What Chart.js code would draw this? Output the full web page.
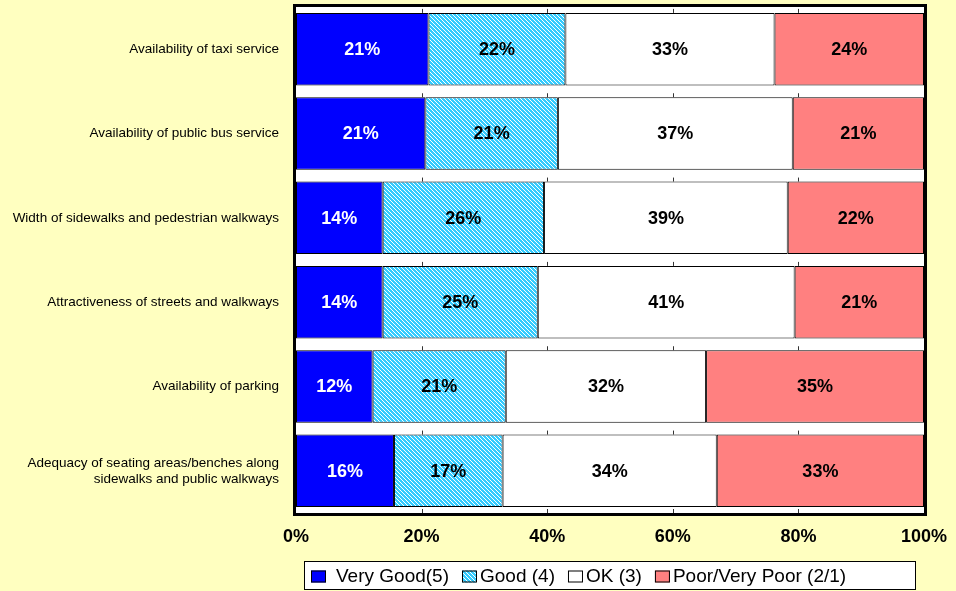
<!DOCTYPE html>
<html>
<head>
<meta charset="utf-8">
<script src="https://cdn.jsdelivr.net/npm/chart.js@4.4.1/dist/chart.umd.min.js"></script>
<style>
  html, body { margin: 0; padding: 0; background: #FFFFC0; }
  #ratingChart { display: block; }
</style>
</head>
<body>
<canvas id="ratingChart" width="956" height="591"></canvas>
<script>
var categories = [
    'Availability of taxi service',
    'Availability of public bus service',
    'Width of sidewalks and pedestrian walkways',
    'Attractiveness of streets and walkways',
    'Availability of parking',
    ['Adequacy of seating areas/benches along', 'sidewalks and public walkways']
];
var seriesNames = ['Very Good(5)', 'Good (4)', 'OK (3)', 'Poor/Very Poor (2/1)'];
var veryGood = [21.1, 20.6, 13.8, 13.8, 12.2, 15.6];
var good     = [21.8, 21.1, 25.7, 24.7, 21.2, 17.3];
var ok       = [33.3, 37.4, 38.8, 40.9, 31.9, 34.1];
var poor     = [23.8, 20.9, 21.7, 20.6, 34.7, 33.0];
var xTicks   = [0, 20, 40, 60, 80, 100];

var FONT = 'Arial, "Liberation Sans", sans-serif';
var ctx = document.getElementById('ratingChart').getContext('2d');

// diagonal cyan/white hatch like the Excel "Good" fill
var hatch = (function () {
    var c = document.createElement('canvas');
    c.width = 4; c.height = 4;
    var g = c.getContext('2d');
    g.fillStyle = '#33CCFF';
    g.fillRect(0, 0, 4, 4);
    g.fillStyle = '#ffffff';
    for (var i = 0; i < 4; i++) {
        g.fillRect((i + 2) % 4, i, 1, 1);
    }
    return ctx.createPattern(c, 'repeat');
})();

var fills = ['#0000FF', hatch, '#FFFFFF', '#FF8080'];

var extras = {
    id: 'extras',
    beforeDraw: function (chart) {
        var a = chart.chartArea, c = chart.ctx;
        c.save();
        c.fillStyle = '#ffffff';
        c.fillRect(a.left, a.top, a.right - a.left, a.bottom - a.top);
        c.restore();
    },
    afterDatasetsDraw: function (chart) {
        var a = chart.chartArea, c = chart.ctx, xs = chart.scales.x;
        c.save();
        // small value ticks sitting on each bar top and on the bottom edge
        c.strokeStyle = '#333333';
        c.lineWidth = 1;
        var tops = chart.getDatasetMeta(0).data.map(function (el) { return el.y - el.height / 2; });
        tops.push(a.bottom);
        [20, 40, 60, 80].forEach(function (v) {
            var px = Math.round(xs.getPixelForValue(v)) + 0.5;
            tops.forEach(function (t) {
                c.beginPath();
                c.moveTo(px, t - 4);
                c.lineTo(px, t);
                c.stroke();
            });
        });
        // percentage labels in the bars
        c.font = 'bold 18px ' + FONT;
        c.textAlign = 'center';
        c.textBaseline = 'middle';
        chart.data.datasets.forEach(function (ds, i) {
            chart.getDatasetMeta(i).data.forEach(function (el, j) {
                c.fillStyle = i === 0 ? '#ffffff' : '#000000';
                c.fillText(Math.round(ds.data[j]) + '%', (el.x + el.base) / 2, el.y + 1);
            });
        });
        // plot frame
        c.strokeStyle = '#000000';
        c.lineWidth = 3;
        c.strokeRect(a.left - 1.5, a.top - 1.5, a.right - a.left + 3, a.bottom - a.top + 3);
        c.restore();
    },
    afterDraw: function (chart) {
        var a = chart.chartArea, c = chart.ctx;
        var boxW = 612, boxL = Math.round((a.left + a.right) / 2 - boxW / 2), boxT = 561, boxH = 29;
        c.save();
        c.fillStyle = '#ffffff';
        c.fillRect(boxL, boxT, boxW, boxH);
        c.strokeStyle = '#000000';
        c.lineWidth = 1;
        c.strokeRect(boxL + 0.5, boxT + 0.5, boxW - 1, boxH - 1);
        c.font = '19px ' + FONT;
        c.textAlign = 'left';
        c.textBaseline = 'middle';
        var x = boxL + 7, midY = boxT + boxH / 2 + 1;
        chart.data.datasets.forEach(function (ds, i) {
            c.fillStyle = ds.backgroundColor;
            c.fillRect(x, midY - 6, 15, 12);
            c.strokeStyle = '#000000';
            c.strokeRect(x + 0.5, midY - 5.5, 14, 11);
            x += i === 0 ? 25 : 18;
            c.fillStyle = '#000000';
            c.fillText(ds.label, x, midY);
            x += c.measureText(ds.label).width + 13;
        });
        c.restore();
    }
};

var rows = [veryGood, good, ok, poor];
var ratingChart = new Chart(ctx, {
    type: 'bar',
    data: {
        labels: categories,
        datasets: rows.map(function (vals, i) {
            return {
                label: seriesNames[i],
                data: vals,
                backgroundColor: fills[i],
                borderColor: '#000000',
                borderWidth: 1,
                borderSkipped: false,
                barPercentage: 0.86,
                categoryPercentage: 1.0
            };
        })
    },
    options: {
        indexAxis: 'y',
        responsive: false,
        animation: false,
        devicePixelRatio: 1,
        layout: { padding: { top: 7, right: 32, bottom: 38, left: 0 } },
        scales: {
            x: {
                stacked: true,
                min: 0,
                max: 100,
                afterBuildTicks: function (scale) {
                    scale.ticks = xTicks.map(function (v) { return { value: v }; });
                },
                afterFit: function (scale) {
                    scale.height = 40;
                    scale.paddingLeft = 0;
                    scale.paddingRight = 0;
                },
                grid: { display: false, drawTicks: false },
                border: { display: false },
                ticks: {
                    padding: 13,
                    color: '#000000',
                    font: { family: FONT, size: 18, weight: 'bold' },
                    callback: function (v) { return v + '%'; }
                }
            },
            y: {
                stacked: true,
                afterFit: function (scale) {
                    scale.width = 296;
                    scale.paddingTop = 0;
                    scale.paddingBottom = 0;
                },
                grid: { display: false, drawTicks: false },
                border: { display: false },
                ticks: {
                    padding: 17,
                    color: '#000000',
                    font: { family: FONT, size: 13.5, lineHeight: 1.19 }
                }
            }
        },
        plugins: {
            legend: { display: false },
            tooltip: { enabled: false }
        }
    },
    plugins: [extras]
});
</script>
</body>
</html>
